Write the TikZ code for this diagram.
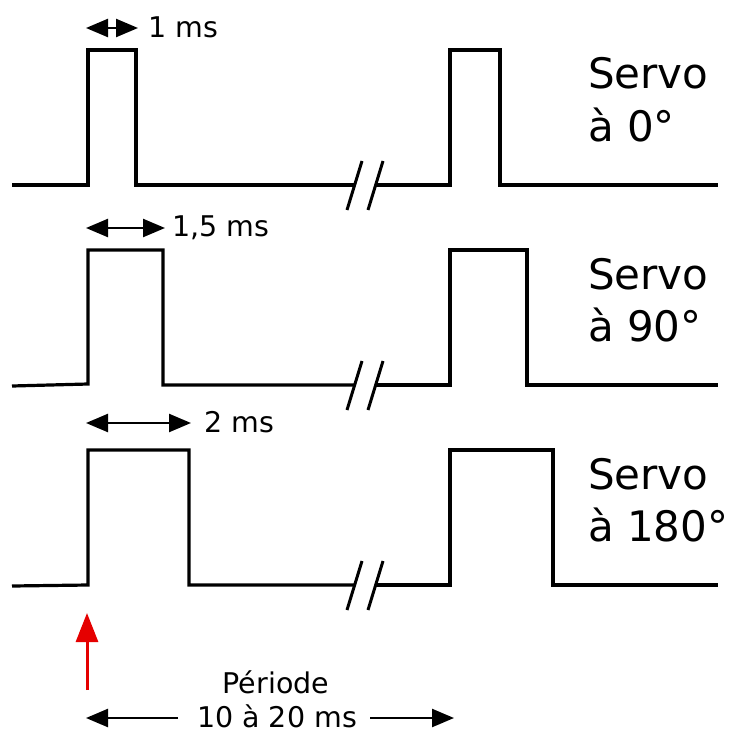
\documentclass[tikz,border=0pt]{standalone}
\usepackage{fontspec}
\setmainfont{DejaVu Sans}
\usetikzlibrary{arrows.meta}
\tikzset{
  wave/.style={line width=3.2pt, line join=miter},
  slash/.style={line width=3pt},
  dim/.style={line width=2.4pt, {Triangle[length=22pt,width=18pt]}-{Triangle[length=22pt,width=18pt]}},
  dimr/.style={line width=2.4pt, -{Triangle[length=22pt,width=18pt]}},
  redarrow/.style={line width=3pt, red!90!black, -{Triangle[length=29pt,width=22pt]}},
  small/.style={font=\fontsize{28.5}{34}\selectfont, inner sep=0pt},
  big/.style={font=\fontsize{42}{50}\selectfont, inner sep=0pt, anchor=base west}
}
\begin{document}
\begin{tikzpicture}[x=1pt,y=-1pt]
\useasboundingbox (0,0) rectangle (735,733);
% row 1
\draw[wave] (12,185) -- (88,185) -- (88,50) -- (136,50) -- (136,185) -- (355,185);
\draw[wave] (375,185) -- (450,185) -- (450,50) -- (500,50) -- (500,185) -- (718,185);
\draw[slash] (347,210) -- (362,161);
\draw[slash] (368,210) -- (383,161);
% row 2
\draw[wave] (12,386) -- (88,384) -- (88,250) -- (163,250) -- (163,385) -- (355,385);
\draw[wave] (375,385) -- (450,385) -- (450,250) -- (527,250) -- (527,385) -- (718,385);
\draw[slash] (347,410) -- (362,361);
\draw[slash] (368,410) -- (383,361);
% row 3
\draw[wave] (12,586) -- (88,585) -- (88,450) -- (189,450) -- (189,585) -- (355,585);
\draw[wave] (375,585) -- (450,585) -- (450,450) -- (553,450) -- (553,585) -- (718,585);
\draw[slash] (347,610) -- (362,561);
\draw[slash] (368,610) -- (383,561);
% pulse width dimensions
\coordinate (a1) at (86,28);  \coordinate (b1) at (138,28);
\coordinate (a2) at (86,228); \coordinate (b2) at (165,228);
\coordinate (a3) at (86,423); \coordinate (b3) at (191,423);
\draw[dim] (a1) -- (b1);
\draw[dim] (a2) -- (b2);
\draw[dim] (a3) -- (b3);
\node[small, anchor=west] (t1) at (148,27) {1 ms};
\node[small, anchor=west] (t2) at (172,228) {1,5 ms};
\node[small, anchor=west] (t3) at (204,422) {2 ms};
% labels
\node[big] (s1) at (588,89) {Servo};
\node[big] (d1) at (588,141) {à 0°};
\node[big] (s2) at (588,289) {Servo};
\node[big] (d2) at (588,341) {à 90°};
\node[big] (s3) at (588,489) {Servo};
\node[big] (d3) at (588,541) {à 180°};
% red arrow
\coordinate (r0) at (87,690);
\coordinate (r1) at (87,613);
\draw[redarrow] (r0) -- (r1);
% period
\node[small] (per) at (276,682) {Période};
\node[small] (rng) at (277,716) {10 à 20 ms};
\coordinate (pl) at (86,718);
\coordinate (pr) at (454,718);
\coordinate (ql) at (178,718);
\coordinate (qr) at (370,718);
\draw[dimr] (ql) -- (pl);
\draw[dimr] (qr) -- (pr);
\end{tikzpicture}
\end{document}
